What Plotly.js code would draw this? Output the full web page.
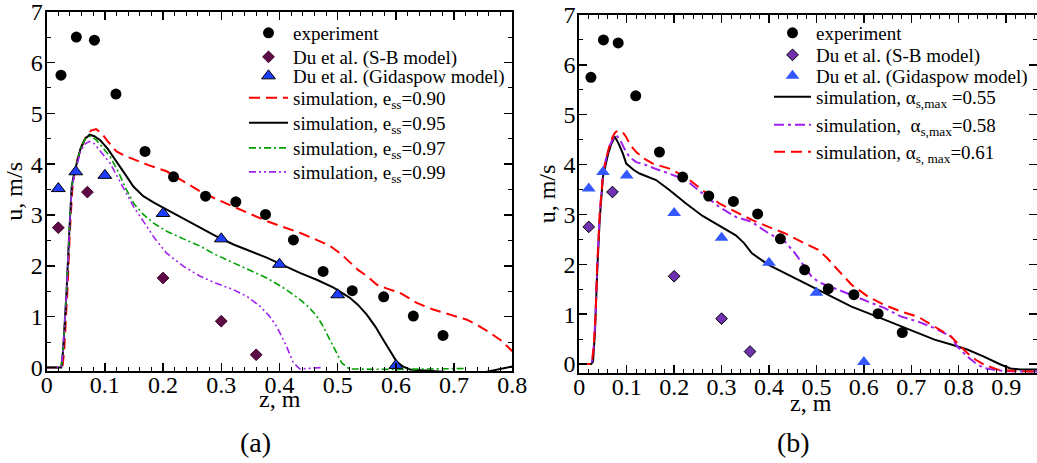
<!DOCTYPE html>
<html>
<head>
<meta charset="utf-8">
<script src="https://cdn.plot.ly/plotly-3.0.1.min.js"></script>
<style>html,body{margin:0;padding:0;background:#fff;}#chart{width:1037px;height:463px;}</style>
</head>
<body>
<div id="chart"></div>
<script>
// ---- shared data points (both panels) ----
const expZ = [0.0246, 0.051, 0.082, 0.119, 0.169, 0.218, 0.273, 0.325, 0.376, 0.424, 0.475, 0.525, 0.579, 0.630, 0.681];
const expU = [5.75, 6.50, 6.44, 5.38, 4.25, 3.75, 3.37, 3.26, 3.01, 2.51, 1.89, 1.51, 1.39, 1.01, 0.63];
const sbZ = [0.02, 0.07, 0.20, 0.30, 0.36];
const sbU = [2.75, 3.45, 1.76, 0.91, 0.25];
const gidZ = [0.02, 0.05, 0.10, 0.20, 0.30, 0.40, 0.50, 0.60];
const gidU = [3.52, 3.85, 3.78, 3.03, 2.53, 2.03, 1.43, 0.04];

// ---- panel (a): restitution coefficient e_ss ----
const e90Z = [0, 0.027, 0.03, 0.033, 0.036, 0.04, 0.044, 0.048, 0.053, 0.06, 0.068, 0.076, 0.085, 0.095, 0.105, 0.12, 0.135, 0.149, 0.175, 0.206, 0.235, 0.263, 0.29, 0.321, 0.35, 0.378, 0.405, 0.435, 0.46, 0.487, 0.505, 0.521, 0.535, 0.55, 0.567, 0.585, 0.607, 0.636, 0.664, 0.693, 0.722, 0.742, 0.762, 0.782, 0.8];
const e90U = [0, 0, 0.3, 0.9, 1.6, 2.7, 3.5, 3.85, 4.1, 4.35, 4.55, 4.66, 4.69, 4.6, 4.45, 4.25, 4.16, 4.10, 3.98, 3.86, 3.67, 3.47, 3.32, 3.17, 3.02, 2.88, 2.77, 2.65, 2.53, 2.39, 2.24, 2.06, 1.92, 1.8, 1.63, 1.55, 1.47, 1.27, 1.14, 1.04, 0.94, 0.82, 0.68, 0.52, 0.32];
const e95Z = [0, 0.025, 0.028, 0.031, 0.034, 0.039, 0.043, 0.047, 0.052, 0.058, 0.066, 0.074, 0.082, 0.092, 0.105, 0.12, 0.135, 0.149, 0.166, 0.185, 0.206, 0.235, 0.263, 0.29, 0.321, 0.35, 0.378, 0.405, 0.435, 0.465, 0.493, 0.521, 0.535, 0.55, 0.565, 0.578, 0.59, 0.601, 0.612, 0.624, 0.7, 0.75, 0.8];
const e95U = [0, 0, 0.3, 0.8, 1.46, 2.7, 3.56, 3.8, 4.05, 4.3, 4.5, 4.58, 4.55, 4.47, 4.3, 4.06, 3.8, 3.56, 3.37, 3.24, 3.11, 2.93, 2.75, 2.59, 2.42, 2.29, 2.16, 2.02, 1.86, 1.72, 1.57, 1.37, 1.23, 1.04, 0.8, 0.55, 0.33, 0.12, 0.02, -0.04, -0.1, -0.1, 0.02];
const e97Z = [0, 0.025, 0.028, 0.031, 0.034, 0.039, 0.043, 0.047, 0.052, 0.058, 0.066, 0.075, 0.085, 0.097, 0.109, 0.123, 0.137, 0.15, 0.166, 0.185, 0.206, 0.235, 0.263, 0.29, 0.321, 0.35, 0.378, 0.405, 0.435, 0.45, 0.464, 0.473, 0.481, 0.49, 0.498, 0.507, 0.52, 0.6, 0.72];
const e97U = [0, 0, 0.3, 0.8, 1.46, 2.7, 3.56, 3.8, 4.05, 4.3, 4.5, 4.55, 4.48, 4.32, 4.15, 3.85, 3.5, 3.22, 3.01, 2.83, 2.68, 2.53, 2.39, 2.22, 2.06, 1.91, 1.76, 1.58, 1.34, 1.19, 1.01, 0.85, 0.68, 0.48, 0.29, 0.09, -0.03, -0.04, -0.02];
const e99Z = [0, 0.025, 0.028, 0.031, 0.034, 0.039, 0.043, 0.047, 0.052, 0.058, 0.066, 0.074, 0.082, 0.095, 0.109, 0.123, 0.137, 0.15, 0.166, 0.185, 0.206, 0.235, 0.263, 0.29, 0.321, 0.345, 0.366, 0.382, 0.395, 0.404, 0.412, 0.418, 0.424, 0.435, 0.455, 0.475];
const e99U = [0, 0, 0.3, 0.8, 1.46, 2.7, 3.5, 3.75, 4.0, 4.25, 4.4, 4.45, 4.4, 4.22, 4.02, 3.72, 3.43, 3.15, 2.88, 2.55, 2.25, 1.99, 1.80, 1.66, 1.53, 1.39, 1.21, 1.02, 0.81, 0.62, 0.42, 0.25, 0.09, -0.03, -0.02, 0.0];

// ---- panel (b): maximum packing alpha_s,max ----
const a55Z = [0, 0.025, 0.029, 0.033, 0.038, 0.043, 0.05, 0.056, 0.061, 0.067, 0.075, 0.083, 0.092, 0.099, 0.106, 0.115, 0.127, 0.145, 0.162, 0.19, 0.225, 0.26, 0.295, 0.33, 0.347, 0.364, 0.399, 0.434, 0.469, 0.504, 0.539, 0.574, 0.609, 0.644, 0.679, 0.714, 0.749, 0.784, 0.818, 0.853, 0.871, 0.888, 0.909, 0.93, 0.965];
const a55U = [0, 0, 0.05, 0.62, 1.89, 2.89, 3.76, 4.05, 4.22, 4.4, 4.56, 4.42, 4.22, 4.02, 3.96, 3.89, 3.82, 3.75, 3.69, 3.49, 3.22, 2.97, 2.78, 2.58, 2.43, 2.22, 1.99, 1.82, 1.65, 1.49, 1.32, 1.15, 1.02, 0.89, 0.75, 0.62, 0.49, 0.39, 0.29, 0.15, 0.06, -0.01, -0.09, -0.11, -0.11];
const a58Z = [0, 0.026, 0.03, 0.034, 0.038, 0.043, 0.05, 0.056, 0.063, 0.07, 0.078, 0.086, 0.095, 0.106, 0.12, 0.141, 0.165, 0.19, 0.225, 0.26, 0.295, 0.33, 0.364, 0.399, 0.434, 0.455, 0.476, 0.49, 0.504, 0.518, 0.546, 0.574, 0.609, 0.644, 0.679, 0.714, 0.749, 0.784, 0.797, 0.818, 0.835, 0.853, 0.881, 0.92, 0.965];
const a58U = [0, 0, 0.3, 0.9, 2.0, 3.0, 3.8, 4.1, 4.35, 4.5, 4.59, 4.5, 4.32, 4.15, 4.05, 3.99, 3.9, 3.82, 3.69, 3.42, 3.15, 2.95, 2.85, 2.62, 2.45, 2.22, 1.95, 1.75, 1.65, 1.59, 1.49, 1.39, 1.25, 1.12, 0.95, 0.85, 0.72, 0.55, 0.35, 0.15, 0.02, -0.08, -0.13, -0.15, -0.15];
const a61Z = [0, 0.026, 0.03, 0.034, 0.038, 0.043, 0.05, 0.056, 0.063, 0.07, 0.076, 0.082, 0.088, 0.094, 0.099, 0.107, 0.12, 0.137, 0.155, 0.19, 0.225, 0.26, 0.295, 0.33, 0.364, 0.399, 0.434, 0.469, 0.504, 0.522, 0.539, 0.557, 0.574, 0.609, 0.644, 0.679, 0.714, 0.749, 0.784, 0.797, 0.818, 0.835, 0.853, 0.881, 0.92, 0.965];
const a61U = [0, 0, 0.3, 0.9, 2.0, 3.0, 3.8, 4.1, 4.35, 4.55, 4.65, 4.68, 4.67, 4.62, 4.55, 4.4, 4.25, 4.12, 4.02, 3.92, 3.75, 3.49, 3.22, 3.05, 2.89, 2.75, 2.62, 2.45, 2.29, 2.13, 1.95, 1.76, 1.59, 1.35, 1.18, 1.05, 0.95, 0.75, 0.55, 0.42, 0.22, 0.09, -0.01, -0.11, -0.14, -0.15];

const legendA = ['experiment', 'Du et al. (S-B model)', 'Du et al. (Gidaspow model)',
  'simulation, e<sub>ss</sub>=0.90', 'simulation, e<sub>ss</sub>=0.95',
  'simulation, e<sub>ss</sub>=0.97', 'simulation, e<sub>ss</sub>=0.99'];
const legendB = ['experiment', 'Du et al. (S-B model)', 'Du et al. (Gidaspow model)',
  'simulation, \u03b1<sub>s,max</sub> =0.55', 'simulation, \u00a0\u03b1<sub>s,max</sub>=0.58',
  'simulation, \u03b1<sub>s, max</sub>=0.61'];

const FONT = 'Liberation Serif';

function pts(x, y, name, marker, xa, ya) {
  return {x: x, y: y, name: name, type: 'scatter', mode: 'markers', marker: marker,
          xaxis: xa, yaxis: ya, cliponaxis: false};
}
function line(x, y, name, ln, xa, ya) {
  return {x: x, y: y, name: name, type: 'scatter', mode: 'lines', line: ln,
          xaxis: xa, yaxis: ya};
}

// traces listed in legend order: panel (a) then panel (b)
const traces = [
  pts(expZ, expU, legendA[0], {symbol: 'circle', size: 11, color: '#000'}, 'x', 'y'),
  pts(sbZ, sbU, legendA[1], {symbol: 'diamond', size: 9, color: '#5e0a45', line: {color: '#3a0028', width: 1}}, 'x', 'y'),
  pts(gidZ, gidU, legendA[2], {symbol: 'triangle-up', size: 12, color: '#1f3dff', line: {color: '#000', width: 1}}, 'x', 'y'),
  line(e90Z, e90U, legendA[3], {color: '#ff0000', width: 2, dash: '11px,6px'}, 'x', 'y'),
  line(e95Z, e95U, legendA[4], {color: '#000000', width: 2}, 'x', 'y'),
  line(e97Z, e97U, legendA[5], {color: '#00a000', width: 1.6, dash: '7px,3px,2px,3px'}, 'x', 'y'),
  line(e99Z, e99U, legendA[6], {color: '#a020f0', width: 1.6, dash: '7px,3px,2px,3px,2px,3px'}, 'x', 'y'),
  pts(expZ, expU, legendB[0], {symbol: 'circle', size: 11, color: '#000'}, 'x2', 'y2'),
  pts(sbZ, sbU, legendB[1], {symbol: 'diamond', size: 9, color: '#7030b0', line: {color: '#000', width: 1}}, 'x2', 'y2'),
  pts(gidZ, gidU, legendB[2], {symbol: 'triangle-up', size: 12, color: '#3358ff', line: {width: 0}}, 'x2', 'y2'),
  line(a55Z, a55U, legendB[3], {color: '#000000', width: 2}, 'x2', 'y2'),
  line(a58Z, a58U, legendB[4], {color: '#a020f0', width: 2, dash: '10px,4px,3px,4px'}, 'x2', 'y2'),
  line(a61Z, a61U, legendB[5], {color: '#ff0000', width: 2, dash: '11px,6px'}, 'x2', 'y2')
];
// draw lines beneath markers
const drawOrder = [3, 4, 5, 6, 0, 1, 2, 10, 11, 12, 7, 8, 9];

function xaxis(dom, range, anchor) {
  return {domain: dom, range: range, anchor: anchor, showline: true, linecolor: '#000', linewidth: 2,
    mirror: 'allticks', ticks: 'inside', ticklen: 8, tickwidth: 1.5, tickcolor: '#000',
    dtick: 0.1, tick0: 0, showgrid: false, zeroline: false, ticklabeloverflow: 'allow',
    ticklabelstandoff: -9,
    minor: {ticks: 'inside', ticklen: 4, tickwidth: 1, tickcolor: '#000', dtick: 0.02, showgrid: false},
    tickfont: {family: FONT, size: 24, color: '#000'}};
}
function yaxis(dom, range, anchor, title) {
  return {domain: dom, range: range, anchor: anchor, showline: true, linecolor: '#000', linewidth: 2,
    mirror: 'allticks', ticks: 'inside', ticklen: 8, tickwidth: 1.5, tickcolor: '#000',
    dtick: 1, tick0: 0, showgrid: false, zeroline: false, ticklabeloverflow: 'allow',
    ticklabelstandoff: -3,
    minor: {ticks: 'inside', ticklen: 4, tickwidth: 1, tickcolor: '#000', dtick: 0.5, showgrid: false},
    tickfont: {family: FONT, size: 24, color: '#000'},
    title: {text: title, font: {family: FONT, size: 24, color: '#000'}, standoff: 1}};
}

const legFont = {family: FONT, size: 19, color: '#000'};
const titleFont = {family: FONT, size: 24, color: '#000'};
const layout = {
  width: 1037, height: 463,
  margin: {l: 0, r: 0, t: 0, b: 0},
  paper_bgcolor: '#fff', plot_bgcolor: '#fff',
  font: {family: FONT, color: '#000'},
  xaxis: xaxis([0.0450, 0.4940], [0, 0.8], 'y'),
  yaxis: yaxis([0.1987, 0.9747], [-0.07, 7], 'x', 'u, m/s'),
  xaxis2: xaxis([0.5586, 1.0], [0, 0.965], 'y2'),
  yaxis2: yaxis([0.1944, 0.9676], [-0.18, 7], 'x2', 'u, m/s'),
  showlegend: true,
  annotations: [
    {text: 'z, m', xref: 'paper', yref: 'paper', x: 280 / 1037, y: 1 - 399 / 463,
     xanchor: 'center', yanchor: 'middle', showarrow: false, font: titleFont},
    {text: 'z, m', xref: 'paper', yref: 'paper', x: 811 / 1037, y: 1 - 403 / 463,
     xanchor: 'center', yanchor: 'middle', showarrow: false, font: titleFont},
    {text: '(a)', xref: 'paper', yref: 'paper', x: 255 / 1037, y: 1 - 442 / 463,
     xanchor: 'center', yanchor: 'middle', showarrow: false, font: {family: FONT, size: 28, color: '#000'}},
    {text: '(b)', xref: 'paper', yref: 'paper', x: 793 / 1037, y: 1 - 442 / 463,
     xanchor: 'center', yanchor: 'middle', showarrow: false, font: {family: FONT, size: 28, color: '#000'}}
  ]
};

// one small legend per entry so rows sit where the reference has them (top edge of each entry, px)
const rowsA = [14, 38, 57, 79, 104, 129, 153];
const rowsB = [14, 36, 57, 78, 106, 133];
traces.forEach((t, i) => {
  const key = i === 0 ? 'legend' : 'legend' + (i + 1);
  t.legend = key;
  const isA = i < 7;
  const rowPx = isA ? rowsA[i] : rowsB[i - 7];
  layout[key] = {
    x: isA ? 244 / 1037 : 769 / 1037, y: 1 - rowPx / 463,
    xanchor: 'left', yanchor: 'top', bgcolor: 'rgba(0,0,0,0)', borderwidth: 0,
    font: legFont, itemwidth: isA ? 39 : 37
  };
});
const ordered = drawOrder.map(i => traces[i]);
Plotly.newPlot('chart', ordered, layout, {displayModeBar: false, staticPlot: true});
</script>
</body>
</html>
